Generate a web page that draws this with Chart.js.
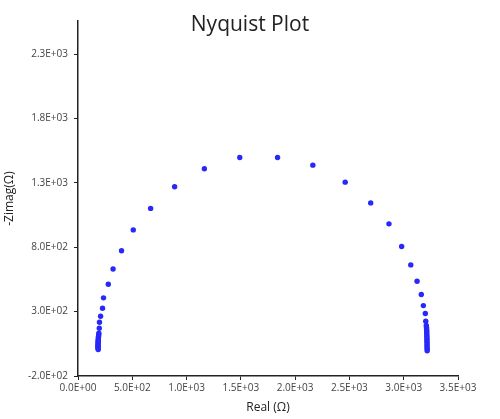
<!DOCTYPE html>
<html>
<head>
<meta charset="utf-8">
<title>Nyquist Plot</title>
<script src="https://cdn.jsdelivr.net/npm/chart.js@4.4.1/dist/chart.umd.min.js"></script>
<style>
  body { margin: 0; background: #fff; }
  #wrap { position: relative; width: 500px; height: 419px; }
  #title {
    position: absolute; left: 0; top: 10px; width: 500px;
    text-align: center; font-family: 'Open Sans', sans-serif;
    font-size: 21px; line-height: 26px; color: #222;
  }
</style>
</head>
<body>
<div id="wrap">
  <canvas id="myChart" width="500" height="419"></canvas>
  <div id="title">Nyquist Plot</div>
</div>
<script>
// impedance data
var realOhm = [186, 185, 184, 185, 184, 185, 185, 186, 186, 187, 188, 189, 191, 192,
  196, 198, 208, 226, 235, 279, 323, 401, 509, 669, 890, 1164, 1490, 1838, 2163,
  2461, 2696, 2864, 2981, 3065, 3123, 3162, 3181, 3199, 3203,
  3208, 3210, 3211, 3212, 3212, 3213, 3213, 3214, 3214, 3214, 3215, 3215, 3215, 3216, 3216];
var imagOhm = [5, 14, 23, 32, 41, 50, 59, 68, 78, 88, 98, 109, 120, 132,
  171, 218, 264, 326, 407, 513, 631, 773, 935, 1102, 1270, 1410, 1498, 1498, 1438,
  1306, 1145, 982, 806, 663, 536, 433, 347, 285, 225,
  192, 178, 164, 150, 136, 122, 108, 94, 80, 66, 52, 38, 24, 10, -4];
var xTicks = [0, 500, 1000, 1500, 2000, 2500, 3000, 3500];
var yTicks = [-200, 300, 800, 1300, 1800, 2300];

function sciLabel(v)
{
    if (v === 0) return '0.0E+00';
    var e = Math.floor(Math.log10(Math.abs(v)) + 1e-9);
    var m = v / Math.pow(10, e);
    return m.toFixed(1) + 'E' + (e < 0 ? '-' : '+') + String(Math.abs(e)).padStart(2, '0');
}

var points = [];
for (var i in realOhm) {
    points.push({x: realOhm[i], y: imagOhm[i]});
}

var tickFont = {family: "'Open Sans', sans-serif", size: 10};
var titleFont = {family: "'Open Sans', sans-serif", size: 12};

new Chart(document.getElementById('myChart'), {
    type: 'scatter',
    data: {
        datasets: [
            {
                label: 'Nyquist',
                data: points,
                backgroundColor: 'rgb(40, 40, 250)',
                borderColor: 'rgb(40, 40, 250)',
                borderWidth: 0,
                pointRadius: 2.7
            }
        ]
    },
    options: {
        responsive: false,
        animation: false,
        layout: {padding: {left: 0, right: 42, top: 21, bottom: 0}},
        plugins: {
            legend: {display: false},
            tooltip: {enabled: false},
            title: {display: false}
        },
        scales: {
            x: {
                type: 'linear',
                min: 0,
                max: 3500,
                afterBuildTicks: function (scale) {
                    scale.ticks = xTicks.map(function (v) { return {value: v}; });
                },
                afterFit: function (scale) { scale.height = 43; },
                border: {display: true, color: '#222', width: 1.5},
                grid: {drawOnChartArea: false, drawTicks: true, tickLength: 4, color: '#222'},
                ticks: {
                    color: '#444',
                    font: tickFont,
                    padding: 2,
                    maxRotation: 0,
                    callback: function (v) { return sciLabel(v); }
                },
                title: {display: true, text: 'Real (Ω)', color: '#222', font: titleFont, padding: {top: 2, bottom: 4}}
            },
            y: {
                type: 'linear',
                min: -200,
                max: 2558,
                afterBuildTicks: function (scale) {
                    scale.ticks = yTicks.map(function (v) { return {value: v}; });
                },
                afterFit: function (scale) { scale.width = 78; },
                border: {display: true, color: '#222', width: 1.5},
                grid: {drawOnChartArea: false, drawTicks: true, tickLength: 4, color: '#222'},
                ticks: {
                    color: '#444',
                    font: tickFont,
                    padding: 6,
                    callback: function (v) { return sciLabel(v); }
                },
                title: {display: true, text: '-Zimag(Ω)', color: '#222', font: titleFont, padding: {top: 2, bottom: 2}}
            }
        }
    }
});
</script>
</body>
</html>
